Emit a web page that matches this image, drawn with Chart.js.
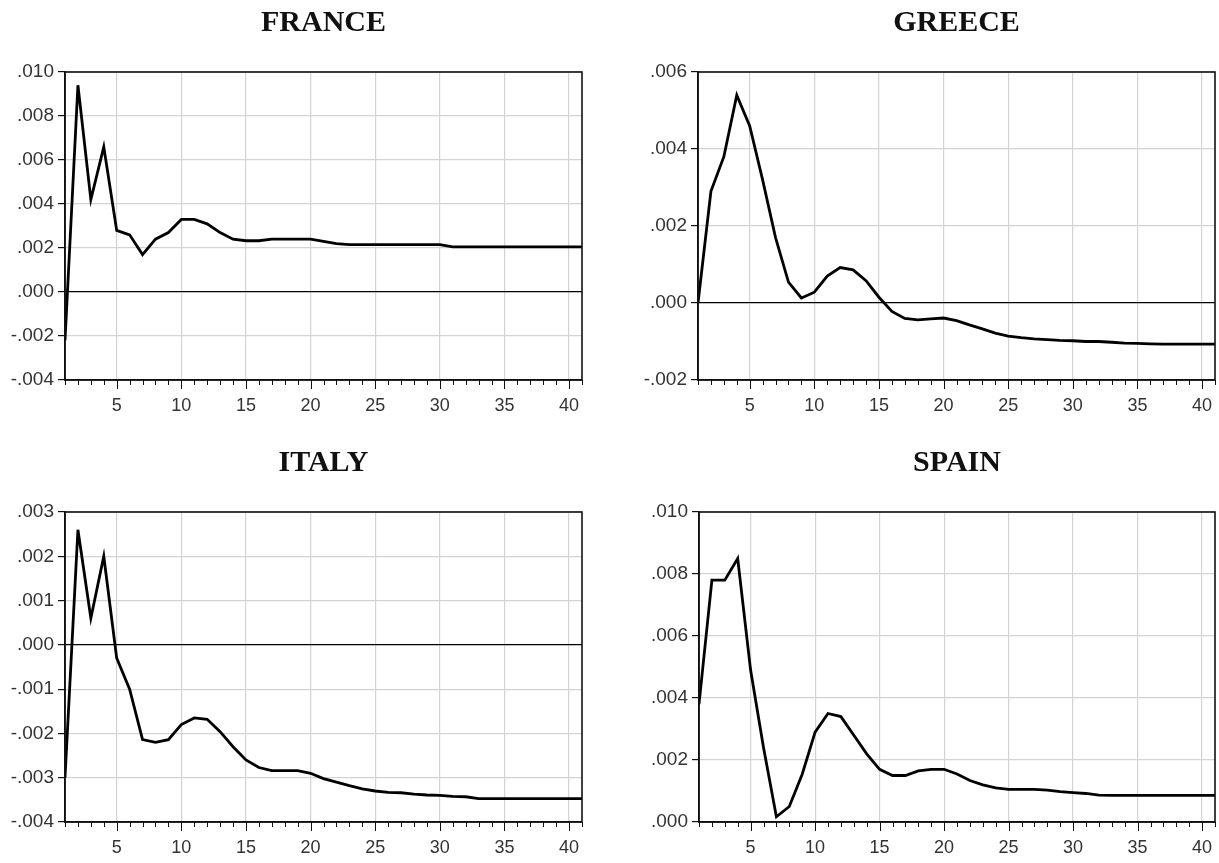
<!DOCTYPE html>
<html lang="en">
<head>
    <meta charset="UTF-8">
    <title>Impulse responses</title>
    <script src="https://cdn.jsdelivr.net/npm/chart.js"></script>
    <style>
        html, body { margin: 0; padding: 0; background: #fff; overflow: hidden; }
        #page { position: relative; width: 1219px; height: 863px; overflow: hidden; }
        .panel { position: absolute; display: block; }
    </style>
</head>
<body>
    <div id="page">
        <canvas class="panel" id="c-france"></canvas>
        <canvas class="panel" id="c-greece"></canvas>
        <canvas class="panel" id="c-italy"></canvas>
        <canvas class="panel" id="c-spain"></canvas>
    </div>

    <script>
        // periods (horizon)
        const periods = [1, 2, 3, 4, 5, 6, 7, 8, 9, 10, 11, 12, 13, 14, 15, 16, 17, 18, 19, 20,
            21, 22, 23, 24, 25, 26, 27, 28, 29, 30, 31, 32, 33, 34, 35, 36, 37, 38, 39, 40, 41];
        const xTickLabels = [5, 10, 15, 20, 25, 30, 35, 40];

        const franceVals = [-0.0022, 0.0094, 0.0042, 0.0066, 0.0028, 0.0026, 0.0017, 0.0024, 0.0027, 0.0033,
            0.0033, 0.0031, 0.0027, 0.0024, 0.00233, 0.00233, 0.0024, 0.0024, 0.0024, 0.0024,
            0.0023, 0.0022, 0.00215, 0.00215, 0.00215, 0.00215, 0.00215, 0.00215, 0.00215, 0.00215,
            0.00205, 0.00205, 0.00205, 0.00205, 0.00205, 0.00205, 0.00205, 0.00205, 0.00205, 0.00205, 0.00205];
        const greeceVals = [0.0000, 0.0029, 0.0038, 0.0054, 0.0046, 0.0032, 0.0017, 0.00054, 0.00013, 0.00028,
            0.0007, 0.00092, 0.00086, 0.00058, 0.00015, -0.00022, -0.0004, -0.00044, -0.00041, -0.00039,
            -0.00046, -0.00057, -0.00067, -0.00078, -0.00086, -0.0009, -0.00093, -0.00095, -0.00097, -0.00098,
            -0.001, -0.001, -0.00102, -0.00104, -0.00105, -0.00106, -0.00107, -0.00107, -0.00107, -0.00107, -0.00107];
        const italyVals = [-0.0030, 0.0026, 0.0006, 0.0020, -0.0003, -0.0010, -0.00214, -0.0022, -0.00214, -0.0018,
            -0.00165, -0.00168, -0.00196, -0.0023, -0.0026, -0.00277, -0.00284, -0.00284, -0.00284, -0.0029,
            -0.00302, -0.0031, -0.00318, -0.00325, -0.0033, -0.00333, -0.00334, -0.00337, -0.00339, -0.0034,
            -0.00342, -0.00343, -0.00347, -0.00347, -0.00347, -0.00347, -0.00347, -0.00347, -0.00347, -0.00347, -0.00347];
        const spainVals = [0.0038, 0.0078, 0.0078, 0.0085, 0.0049, 0.0024, 0.00017, 0.0005, 0.00154, 0.0029,
            0.0035, 0.0034, 0.0028, 0.0022, 0.0017, 0.0015, 0.0015, 0.00165, 0.0017, 0.0017,
            0.00155, 0.00134, 0.0012, 0.0011, 0.00105, 0.00105, 0.00105, 0.00103, 0.00098, 0.00095,
            0.00092, 0.00087, 0.00086, 0.00086, 0.00086, 0.00086, 0.00086, 0.00086, 0.00086, 0.00086, 0.00086];

        // y tick labels for each panel
        const franceTicks = [-0.004, -0.002, 0, 0.002, 0.004, 0.006, 0.008, 0.010];
        const greeceTicks = [-0.002, 0, 0.002, 0.004, 0.006];
        const italyTicks = [-0.004, -0.003, -0.002, -0.001, 0, 0.001, 0.002, 0.003];
        const spainTicks = [0, 0.002, 0.004, 0.006, 0.008, 0.010];

        const panels = [
            { id: 'france', title: 'FRANCE', vals: franceVals, ticks: franceTicks, left: 0, top: 0, w: 600, h: 430, yW: 65, padR: 18, xH: 50 },
            { id: 'greece', title: 'GREECE', vals: greeceVals, ticks: greeceTicks, left: 620, top: 0, w: 599, h: 430, yW: 78, padR: 4, xH: 50 },
            { id: 'italy', title: 'ITALY', vals: italyVals, ticks: italyTicks, left: 0, top: 440, w: 600, h: 423, yW: 65, padR: 18, xH: 41 },
            { id: 'spain', title: 'SPAIN', vals: spainVals, ticks: spainTicks, left: 620, top: 440, w: 599, h: 423, yW: 79, padR: 4, xH: 41 }
        ];

        function fmtY(v) {
            if (Math.abs(v) < 1e-12) return '.000';
            const s = Math.abs(v).toFixed(3).replace(/^0/, '');
            return (v < 0 ? '-' : '') + s;
        }

        // frame around the plot and minor/major ticks under the x axis
        const framePlugin = {
            id: 'frame',
            afterDraw(chart) {
                const ctx = chart.ctx;
                const a = chart.chartArea;
                const xs = chart.scales.x;
                ctx.save();
                ctx.strokeStyle = '#111';
                ctx.lineWidth = 1;
                periods.forEach(p => {
                    const px = Math.round(xs.getPixelForValue(p)) + 0.5;
                    const len = p % 5 === 0 ? 9 : 5;
                    ctx.beginPath();
                    ctx.moveTo(px, a.bottom);
                    ctx.lineTo(px, a.bottom + len);
                    ctx.stroke();
                });
                ctx.lineWidth = 1.6;
                ctx.strokeRect(a.left, a.top, a.right - a.left, a.bottom - a.top);
                ctx.restore();
            }
        };

        panels.forEach(p => {
            const cv = document.getElementById('c-' + p.id);
            cv.width = p.w;
            cv.height = p.h;
            cv.style.left = p.left + 'px';
            cv.style.top = p.top + 'px';
            cv.style.width = p.w + 'px';
            cv.style.height = p.h + 'px';

            new Chart(cv, {
                type: 'line',
                data: {
                    datasets: [{
                        data: periods.map((t, i) => ({ x: t, y: p.vals[i] })),
                        borderColor: '#000',
                        borderWidth: 2.8,
                        pointRadius: 0,
                        tension: 0,
                        fill: false
                    }]
                },
                options: {
                    responsive: false,
                    animation: false,
                    devicePixelRatio: 1,
                    layout: { padding: { top: 0, right: p.padR, left: 0, bottom: 0 } },
                    plugins: {
                        legend: { display: false },
                        tooltip: { enabled: false },
                        title: {
                            display: true,
                            text: p.title,
                            fullSize: false,
                            color: '#111',
                            font: { family: 'Liberation Serif', size: 30, weight: 'bold', lineHeight: 1.2 },
                            padding: { top: 5, bottom: 31 }
                        }
                    },
                    scales: {
                        x: {
                            type: 'linear',
                            min: 1,
                            max: 41,
                            afterBuildTicks: s => { s.ticks = periods.map(v => ({ value: v })); },
                            afterFit: s => {
                                s.height = p.xH;
                                s.paddingLeft = 0;
                                s.paddingRight = 0;
                            },
                            border: { display: true, color: '#111', width: 1.6 },
                            grid: {
                                drawTicks: false,
                                color: c => (c.tick && c.tick.value % 5 === 0 ? '#d3d3d3' : 'rgba(0,0,0,0)'),
                                lineWidth: 1.2
                            },
                            ticks: {
                                autoSkip: false,
                                maxRotation: 0,
                                padding: 15,
                                color: '#333',
                                font: { family: 'Liberation Sans', size: 18 },
                                callback: v => (xTickLabels.includes(v) ? String(v) : '')
                            }
                        },
                        y: {
                            min: p.ticks[0],
                            max: p.ticks[p.ticks.length - 1],
                            afterBuildTicks: s => { s.ticks = p.ticks.map(v => ({ value: v })); },
                            afterFit: s => { s.width = p.yW; },
                            border: { display: true, color: '#111', width: 1.6 },
                            grid: {
                                color: c => (c.tick && Math.abs(c.tick.value) < 1e-12 ? '#000' : '#d3d3d3'),
                                lineWidth: 1.2,
                                tickColor: '#111',
                                tickLength: 7
                            },
                            ticks: {
                                padding: 4,
                                color: '#333',
                                font: { family: 'Liberation Sans', size: 19 },
                                callback: v => fmtY(v)
                            }
                        }
                    }
                },
                plugins: [framePlugin]
            });
        });
    </script>
</body>
</html>
